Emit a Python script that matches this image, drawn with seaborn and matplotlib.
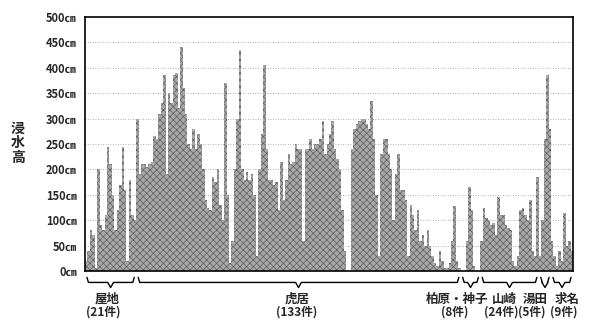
import numpy as np
import pandas as pd
import matplotlib
matplotlib.use("Agg")
import matplotlib.pyplot as plt
import matplotlib.transforms as mtransforms
import seaborn as sns

# flood depth (cm) per house, grouped by district
yaji = [20, 40, 80, 70, 5, 200, 90, 80, 110, 245, 210, 150, 80, 120, 170, 245, 160, 20, 180, 110, 100]
torii = [300, 190, 210, 210, 205, 210, 215, 265, 260, 310, 330, 385, 190, 350, 330, 385, 390, 320, 440, 360,
         310, 250, 240, 280, 240, 270, 250, 200, 140, 125, 120, 185, 175, 200, 130, 100, 370, 150, 15, 60,
         200, 300, 435, 200, 180, 195, 180, 190, 150, 30, 200, 270, 405, 240, 180, 180, 170, 175, 120, 215,
         140, 180, 230, 210, 215, 250, 240, 240, 60, 240, 240, 260, 240, 250, 250, 260, 295, 230, 250, 270,
         295, 240, 220, 200, 120, 40, 0, 0, 240, 280, 290, 295, 300, 300, 290, 280, 335, 260, 150, 30,
         230, 260, 260, 230, 200, 100, 190, 230, 160, 160, 140, 30, 130, 110, 80, 120, 60, 70, 50, 80,
         50, 30, 15, 10, 40, 20, 5, 5, 15, 60, 128, 20, 5]
kashiwabara = [0, 0, 60, 165, 120, 10, 0, 0]
yamazaki = [60, 125, 105, 100, 90, 95, 70, 145, 110, 110, 90, 85, 80, 20, 10, 30, 120, 125, 110, 100,
            140, 40, 30, 185]
yuda = [30, 100, 260, 385, 280]
gyomyo = [60, 30, 10, 40, 20, 115, 50, 60, 40]

groups = ["屋地", "虎居", "柏原・神子", "山崎", "湯田", "求名"]
group_vals = [yaji, torii, kashiwabara, yamazaki, yuda, gyomyo]
yticks = [0, 50, 100, 150, 200, 250, 300, 350, 400, 450, 500]

values = np.concatenate(group_vals)
df = pd.DataFrame({"house": np.arange(len(values)), "depth": values})

sns.set_theme(style="white")
plt.rcParams["font.family"] = ["Noto Sans CJK JP", "DejaVu Sans"]
plt.rcParams["hatch.linewidth"] = 0.5

fig = plt.figure(figsize=(5.93, 3.24), dpi=100)
ax = fig.add_axes([85 / 593, 1 - 271 / 324, 488 / 593, 254 / 324])

sns.barplot(data=df, x="house", y="depth", width=1.0, color="#a8a8a8",
            saturation=1, linewidth=0, native_scale=True, ax=ax)
# halftone-like texture of the scanned print
for p in ax.patches:
    p.set_hatch("xxxxx")
    p.set_edgecolor("#5e5e5e")
    p.set_linewidth(0)

ax.set_xlim(-0.5, len(values) - 0.5)
ax.set_ylim(0, 500)
ax.set_yticks(yticks)
ax.set_yticklabels([f"{v}㎝" for v in yticks], fontsize=8, fontweight="bold")
ax.set_xticks([])
ax.set_xlabel("")
ax.set_ylabel("")
ax.tick_params(axis="y", length=0, pad=6)
for v in yticks[1:-1]:
    ax.axhline(v, color="#999999", lw=0.6, ls=(0, (1, 2)), zorder=0)
for sp in ax.spines.values():
    sp.set_visible(True)
    sp.set_color("black")
    sp.set_linewidth(1.2)

fig.text(18 / 593, 1 - 143 / 324, "浸\n水\n高", ha="center", va="center",
         fontsize=10, fontweight="bold", linespacing=1.05)

# braces under each group
trans = mtransforms.blended_transform_factory(ax.transData, ax.transAxes)
start = -0.5
for vals in group_vals:
    end = start + len(vals)
    a, b = start + 0.8, end - 0.8
    mid = (a + b) / 2
    ax.plot([a, a + 0.6, mid - 1.2, mid, mid + 1.2, b - 0.6, b],
            [-0.025, -0.045, -0.045, -0.065, -0.045, -0.045, -0.025],
            transform=trans, color="black", lw=1.0, clip_on=False)
    start = end

# group labels (pixel positions from the layout)
name_x = [107, 297, 457, 504, 535, 567]
count_x = [103, 297, 455, 501, 532, 564]
for name, vals, nx, cx in zip(groups, group_vals, name_x, count_x):
    fig.text(nx / 593, 1 - 299 / 324, name, ha="center", va="center",
             fontsize=9, fontweight="bold")
    fig.text(cx / 593, 1 - 312 / 324, f"({len(vals)}件)", ha="center", va="center",
             fontsize=8.5, fontweight="bold")

fig.savefig("out.png", dpi=100)
